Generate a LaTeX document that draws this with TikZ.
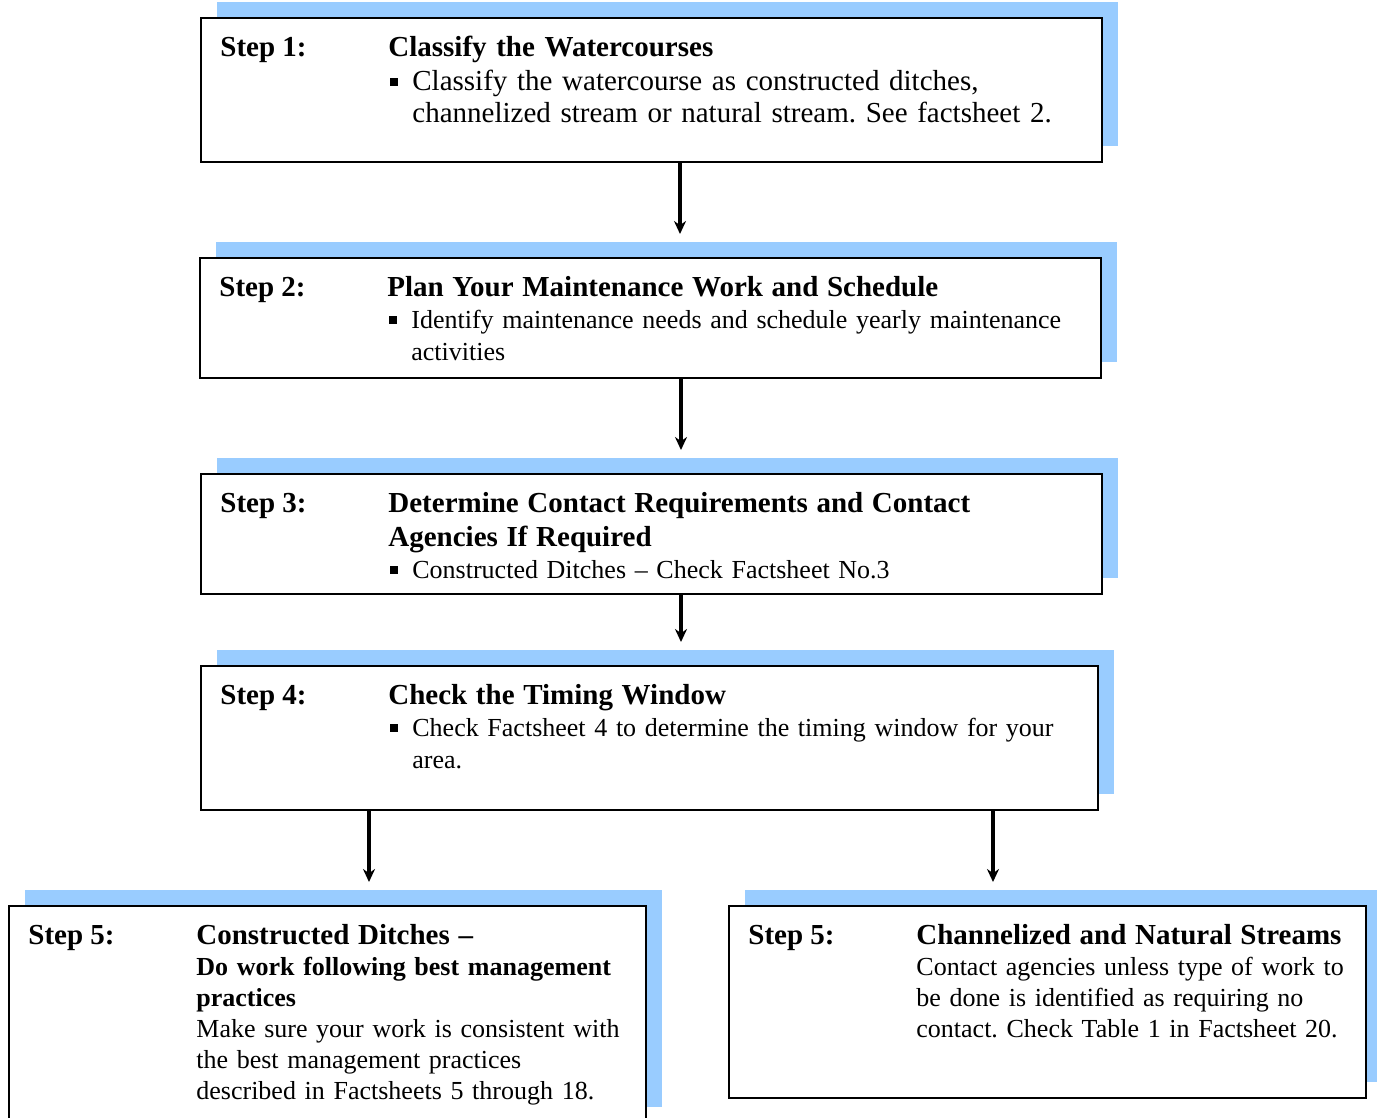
\documentclass[tikz,border=0pt]{standalone}
\usepackage{fontspec}
\setmainfont{Liberation Serif}
\usetikzlibrary{arrows.meta, shadows}
\definecolor{shadowColor}{HTML}{99CCFF}

\frenchspacing
\newcommand{\stepbullet}{\makebox[24pt][l]{\hspace{2pt}\rule[5pt]{8pt}{8pt}}}
\newcommand{\stepindent}{\hspace*{24pt}}
\newcommand{\stepbig}{\fontsize{29pt}{32pt}\selectfont}
\newcommand{\steptitle}[1]{{\stepbig\bfseries #1}}

\begin{document}
\begin{tikzpicture}[x=1pt, y=-1pt, >={Stealth[length=13pt, width=12pt]},
	stepbox/.style={draw=black, line width=1.6pt, fill=white, inner sep=0pt,
		copy shadow={shadow xshift=16pt, shadow yshift=16pt, fill=shadowColor, draw=none}},
	steplabel/.style={anchor=base west, inner sep=0pt, font=\bfseries\stepbig},
	steptext/.style={anchor=base west, inner sep=0pt, text width=900pt, align=left,
		font=\fontsize{26pt}{32pt}\selectfont},
	flowarrow/.style={->, line width=4pt}]
	
	\useasboundingbox (0,0) rectangle (1377,1118);
	
	% --- 1. Step boxes ---
	\node[stepbox, minimum width=901pt, minimum height=144pt] (b1) at (651.5, 90) {};
	\node[stepbox, minimum width=901pt, minimum height=120pt] (b2) at (650.5, 318) {};
	\node[stepbox, minimum width=901pt, minimum height=120pt] (b3) at (651.5, 534) {};
	\node[stepbox, minimum width=897pt, minimum height=144pt] (b4) at (649.5, 738) {};
	\node[stepbox, minimum width=637pt, minimum height=217pt] (b5l) at (327.5, 1014.5) {};
	\node[stepbox, minimum width=637pt, minimum height=192pt] (b5r) at (1047.5, 1002) {};
	
	% --- 2. Step labels ---
	\foreach \bx/\num in {b1/1, b2/2, b3/3, b4/4, b5l/5, b5r/5} {
		\node[steplabel] (s\bx) at ([shift={(20, 39.5)}]\bx.north west) {Step \num:};
	}
	
	% --- 3. Step texts ---
	\node[steptext, font=\stepbig] (t1) at ([shift={(188, 39.5)}]b1.north west) {
		\steptitle{Classify the Watercourses}\\[2pt]
		\stepbullet Classify the watercourse as constructed ditches,\\
		\stepindent channelized stream or natural stream. See factsheet 2.};
	\node[steptext] (t2) at ([shift={(188, 39.5)}]b2.north west) {
		\steptitle{Plan Your Maintenance Work and Schedule}\\
		\stepbullet Identify maintenance needs and schedule yearly maintenance\\
		\stepindent activities};
	\node[steptext] (t3) at ([shift={(188, 39.5)}]b3.north west) {
		\steptitle{Determine Contact Requirements and Contact}\\[2pt]
		\steptitle{Agencies If Required}\\
		\stepbullet Constructed Ditches -- Check Factsheet No.3};
	\node[steptext] (t4) at ([shift={(188, 39.5)}]b4.north west) {
		\steptitle{Check the Timing Window}\\
		\stepbullet Check Factsheet 4 to determine the timing window for your\\
		\stepindent area.};
	\node[steptext, font=\fontsize{26pt}{31pt}\selectfont] (t5l) at ([shift={(188, 39.5)}]b5l.north west) {
		\steptitle{Constructed Ditches --}\\
		\textbf{Do work following best management}\\
		\textbf{practices}\\
		Make sure your work is consistent with\\
		the best management practices\\
		described in Factsheets 5 through 18.};
	\node[steptext, font=\fontsize{26pt}{31pt}\selectfont] (t5r) at ([shift={(188, 39.5)}]b5r.north west) {
		\steptitle{Channelized and Natural Streams}\\
		Contact agencies unless type of work to\\
		be done is identified as requiring no\\
		contact. Check Table 1 in Factsheet 20.};
	
	% --- 4. Arrows between steps ---
	\coordinate (a2) at (680, 234);
	\coordinate (a3) at (681, 450);
	\coordinate (a4) at (681, 642);
	\coordinate (a5l) at (369, 882);
	\coordinate (a5r) at (993, 882);
	\foreach \src/\tip in {b1/a2, b2/a3, b3/a4, b4/a5l, b4/a5r} {
		\draw[flowarrow] (\tip |- \src.south) -- (\tip);
	}
	
\end{tikzpicture}
\end{document}
